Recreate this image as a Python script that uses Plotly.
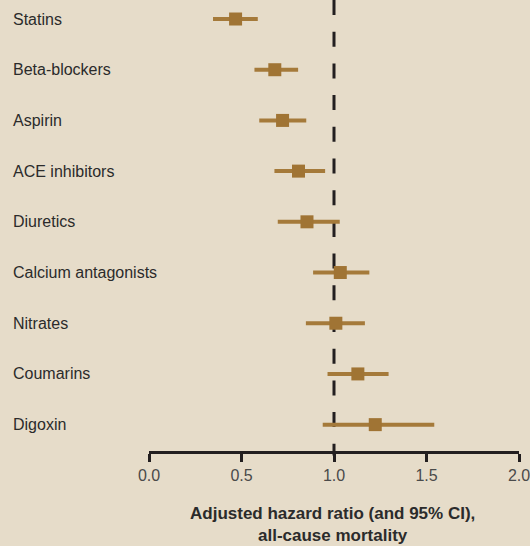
import plotly.graph_objects as go

drugs = ["Statins", "Beta-blockers", "Aspirin", "ACE inhibitors", "Diuretics",
         "Calcium antagonists", "Nitrates", "Coumarins", "Digoxin"]
hr = [0.468, 0.680, 0.722, 0.808, 0.854, 1.034, 1.010, 1.129, 1.223]
ci_low = [0.346, 0.570, 0.596, 0.678, 0.696, 0.887, 0.848, 0.965, 0.939]
ci_high = [0.588, 0.806, 0.850, 0.952, 1.031, 1.191, 1.167, 1.295, 1.542]
tick_vals = [0, 0.5, 1.0, 1.5, 2.0]
tick_text = ["0.0", "0.5", "1.0", "1.5", "2.0"]
x_title = "Adjusted hazard ratio (and 95% CI),<br>all-cause mortality"

rows = list(range(len(drugs)))
err_plus = [h - v for v, h in zip(hr, ci_high)]
err_minus = [v - l for v, l in zip(hr, ci_low)]

BG = "#e6dcc9"
BROWN = "#a07434"
DARK = "#231f20"
FONT = "Liberation Sans, Arial, sans-serif"

fig = go.Figure()
fig.add_trace(go.Scatter(
    x=hr, y=rows, mode="markers",
    marker=dict(symbol="square", size=13, color=BROWN, line=dict(width=0)),
    error_x=dict(type="data", symmetric=False, array=err_plus, arrayminus=err_minus,
                 thickness=4, width=0, color="#a57a3a"),
    showlegend=False, hoverinfo="skip", cliponaxis=False,
))

fig.add_shape(type="line", xref="x", yref="paper", x0=1, x1=1, y0=1, y1=-0.01,
              line=dict(color=DARK, width=3, dash="15px,16.7px"), layer="below")

for i, name in enumerate(drugs):
    fig.add_annotation(x=-0.372, xref="paper", y=i, yref="y", text=name,
                       showarrow=False, xanchor="left", yanchor="middle",
                       font=dict(family=FONT, size=16, color="#2b2b2b"))

fig.add_annotation(x=0.4959, xref="paper", y=-0.113, yref="paper", text=x_title,
                   showarrow=False, xanchor="center", yanchor="top",
                   font=dict(family=FONT, size=17, color="#2b2b2b", weight="bold"))

fig.update_layout(
    width=530, height=546,
    margin=dict(l=149, r=11, t=0, b=95),
    paper_bgcolor=BG, plot_bgcolor=BG,
    xaxis=dict(range=[0, 2], tickvals=tick_vals, ticktext=tick_text,
               showgrid=False, zeroline=False, showline=True, linecolor=DARK,
               linewidth=2.5, ticks="outside", ticklen=8, tickwidth=2.5,
               tickcolor=DARK, ticklabeloverflow="allow",
               tickfont=dict(family=FONT, size=16, color="#4a4a4a")),
    yaxis=dict(range=[8.52, -0.375], visible=False, showgrid=False,
               zeroline=False),
)

fig.write_html("out.html", config={"displayModeBar": False},
               post_script="document.body.style.margin='0';document.body.style.overflow='hidden';")
